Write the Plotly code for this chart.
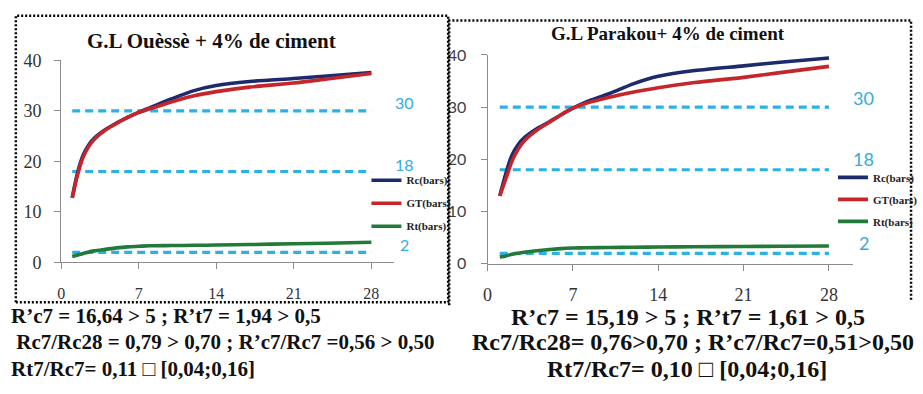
import plotly.graph_objects as go

W, H = 923, 394

# Curing age (days) at which the strengths were read
days = [1, 1.5, 2, 2.5, 3, 4, 5, 6, 7, 8, 10, 12, 14, 17, 21, 24, 28]

# G.L Ouèssè + 4% cement (bars)
rc_ouesse = [12.8, 17.9, 21.3, 23.3, 24.6, 26.3, 27.6, 28.7, 29.7, 30.6, 32.4, 34.0, 35.0, 35.8, 36.4, 36.9, 37.6]
gt_ouesse = [12.8, 17.5, 20.9, 23.0, 24.4, 26.2, 27.5, 28.7, 29.7, 30.4, 31.8, 33.0, 33.8, 34.7, 35.5, 36.3, 37.4]
rt_ouesse = [1.2, 1.5, 1.8, 2.1, 2.3, 2.6, 2.9, 3.1, 3.2, 3.3, 3.35, 3.4, 3.45, 3.55, 3.7, 3.8, 4.0]

# G.L Parakou + 4% cement (bars)
rc_parakou = [13.0, 17.3, 20.8, 22.8, 24.1, 25.8, 27.1, 28.5, 29.8, 30.9, 32.6, 34.5, 35.9, 37.0, 37.9, 38.6, 39.4]
gt_parakou = [13.0, 16.3, 19.6, 21.9, 23.5, 25.5, 27.0, 28.5, 29.8, 30.7, 31.9, 32.9, 33.7, 34.7, 35.7, 36.6, 37.8]
rt_parakou = [1.3, 1.5, 1.8, 2.0, 2.2, 2.5, 2.7, 2.9, 3.0, 3.05, 3.1, 3.15, 3.2, 3.25, 3.3, 3.35, 3.4]

# Reference thresholds drawn as dashed lines
thresholds = [30, 18, 2]
threshold_span = [1, 28]

x_ticks = [0, 7, 14, 21, 28]
y_ticks = [0, 10, 20, 30, 40]

titles = ["G.L Ouèssè + 4% de ciment", "G.L Parakou+ 4% de ciment"]
series_names = ["Rc(bars)", "GT(bars)", "Rt(bars)"]

notes_left = [
    "R’c7 = 16,64 > 5 ; R’t7 = 1,94 > 0,5",
    " Rc7/Rc28 = 0,79 > 0,70 ; R’c7/Rc7 =0,56 > 0,50",
    "Rt7/Rc7= 0,11 \u25a1 [0,04;0,16]",
]
notes_right = [
    "R’c7 = 15,19 > 5 ; R’t7 = 1,61 > 0,5",
    "Rc7/Rc28= 0,76>0,70 ; R’c7/Rc7=0,51>0,50",
    "Rt7/Rc7= 0,10 \u25a1 [0,04;0,16]",
]

colors = ["#1d2b6e", "#c4262b", "#217a3a"]
dash_color = "#2bb1e6"
label_color = "#35acd9"
serif = "Liberation Serif, Times New Roman, serif"
sans = "Lato, Open Sans, sans-serif"


def px_x(p):
    return p / W


def px_y(p):
    return 1 - p / H


fig = go.Figure()

panels = [
    dict(xa="x", ya="y", data=[rc_ouesse, gt_ouesse, rt_ouesse], legend="legend"),
    dict(xa="x2", ya="y2", data=[rc_parakou, gt_parakou, rt_parakou], legend="legend2"),
]

for panel in panels:
    for t in thresholds:
        fig.add_trace(go.Scatter(
            x=threshold_span, y=[t, t], mode="lines",
            line=dict(color=dash_color, width=3.2, dash="8px,5px"),
            xaxis=panel["xa"], yaxis=panel["ya"], showlegend=False, hoverinfo="skip",
        ))
    for name, vals, col in zip(series_names, panel["data"], colors):
        fig.add_trace(go.Scatter(
            x=days, y=vals, mode="lines", name=name,
            line=dict(color=col, width=3.6, shape="spline", smoothing=0.8),
            xaxis=panel["xa"], yaxis=panel["ya"], legend=panel["legend"],
            legendgroup=panel["legend"] + name,
        ))

axis_common = dict(
    showgrid=False, zeroline=False, showline=True, linecolor="#8c8c8c", linewidth=1,
    ticks="outside", ticklen=6, tickcolor="#8c8c8c", tickwidth=1,
)

legend_font = dict(family=serif, size=11, color="#222222", weight="bold")

fig.update_layout(
    width=W, height=H,
    margin=dict(l=0, r=0, t=0, b=0),
    paper_bgcolor="white", plot_bgcolor="white",
    xaxis=dict(domain=[px_x(57), px_x(394.5)], range=[0, 30], tickvals=x_ticks,
               anchor="y", tickfont=dict(family=serif, size=16, color="#333333"),
               ticklabelstandoff=10, **axis_common),
    yaxis=dict(domain=[px_y(266), px_y(53)], range=[0, 40], tickvals=y_ticks,
               anchor="x", tickfont=dict(family=serif, size=18, color="#333333"),
               ticklabelstandoff=9, **axis_common),
    xaxis2=dict(domain=[px_x(490), px_x(861.4)], range=[0, 30], tickvals=x_ticks,
                anchor="y2", tickfont=dict(family=serif, size=18, color="#333333"),
                ticklabelstandoff=9, **axis_common),
    yaxis2=dict(domain=[px_y(267.3), px_y(47.3)], range=[0, 40], tickvals=y_ticks,
                anchor="x2", tickfont=dict(family=sans, size=16, color="#404040"),
                ticklabelstandoff=11, **axis_common),
    legend=dict(x=px_x(367), y=px_y(164), xanchor="left", yanchor="top",
                bgcolor="rgba(0,0,0,0)", tracegroupgap=4, itemwidth=30, font=legend_font),
    legend2=dict(x=px_x(841), y=px_y(161), xanchor="left", yanchor="top",
                 bgcolor="rgba(0,0,0,0)", tracegroupgap=3, itemwidth=30, font=legend_font),
    showlegend=True,
)

annotations = []

# Threshold value labels just beyond the right end of the dashed lines
for ya, xpix, size, shifts in [
    ("y", 406, 16, [8, 7, 8]),
    ("y2", 872, 18, [9, 11, 10]),
]:
    for t, s in zip(thresholds, shifts):
        annotations.append(dict(
            x=px_x(xpix), y=t, xref="paper", yref=ya, text=str(t), showarrow=False,
            xanchor="center", yanchor="middle", yshift=s,
            font=dict(family=sans, size=size, color=label_color),
        ))

# Panel titles
annotations.append(dict(x=px_x(210), y=px_y(33), xref="paper", yref="paper",
                        xanchor="center", yanchor="middle", text=titles[0], showarrow=False,
                        font=dict(family=serif, size=21, color="#111111", weight="bold")))
annotations.append(dict(x=px_x(673), y=px_y(25), xref="paper", yref="paper",
                        xanchor="center", yanchor="middle", text=titles[1], showarrow=False,
                        font=dict(family=serif, size=19, color="#111111", weight="bold")))

# Notes under each panel
for line, yy in zip(notes_left, [322, 350, 378]):
    annotations.append(dict(x=px_x(4), y=px_y(yy), xref="paper", yref="paper",
                            xanchor="left", yanchor="middle", text=line, showarrow=False,
                            font=dict(family=serif, size=21, color="#111111", weight="bold")))
for line, yy, xc in zip(notes_right, [323, 350, 378], [693.5, 699, 692.5]):
    annotations.append(dict(x=px_x(xc), y=px_y(yy), xref="paper", yref="paper",
                            xanchor="center", yanchor="middle", text=line, showarrow=False,
                            font=dict(family=serif, size=24, color="#111111", weight="bold")))

fig.update_layout(annotations=annotations)

# Dotted frames around each panel
frame_line = dict(color="black", width=2.5, dash="2px,2px")
fig.add_shape(type="rect", xref="paper", yref="paper",
              x0=px_x(11), x1=px_x(450), y0=px_y(308), y1=px_y(6), line=frame_line)
fig.add_shape(type="path", xref="paper", yref="paper",
              path=f"M {px_x(451)},{px_y(311)} L {px_x(451)},{px_y(11)} "
                   f"L {px_x(920)},{px_y(11)} L {px_x(920)},{px_y(306)}",
              line=frame_line)

fig.write_html("out.html")
